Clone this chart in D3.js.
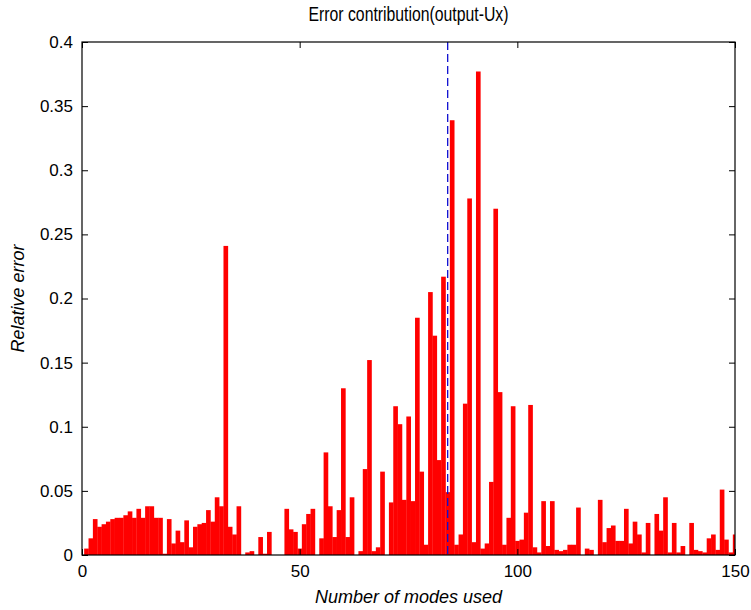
<!DOCTYPE html>
<html>
<head>
<meta charset="utf-8">
<script src="https://cdn.jsdelivr.net/npm/d3@7"></script>
<style>
  html, body { margin: 0; padding: 0; background: #fff; }
  svg text { font-family: "Liberation Sans", Arial, Helvetica, sans-serif; fill: #000; }
</style>
</head>
<body>
<svg id="chart" width="751" height="610"></svg>
<script>
// ---- data ----
const modes = d3.range(1, 151); // mode numbers 1..150
const errors = [
  0.005, 0.013, 0.028, 0.022, 0.024, 0.026, 0.028, 0.029, 0.029, 0.031,
  0.034, 0.029, 0.036, 0.029, 0.038, 0.038, 0.029, 0.029, 0.001, 0.028,
  0.009, 0.019, 0.010, 0.027, 0.006, 0.022, 0.024, 0.025, 0.035, 0.026,
  0.045, 0.038, 0.241, 0.022, 0.016, 0.038, 0.000, 0.002, 0.003, 0.000,
  0.014, 0.001, 0.018, 0.000, 0.000, 0.000, 0.036, 0.020, 0.018, 0.005,
  0.024, 0.032, 0.036, 0.000, 0.013, 0.080, 0.038, 0.014, 0.035, 0.130,
  0.014, 0.045, 0.000, 0.003, 0.067, 0.152, 0.003, 0.006, 0.065, 0.000,
  0.041, 0.116, 0.102, 0.043, 0.108, 0.042, 0.185, 0.065, 0.008, 0.205,
  0.171, 0.074, 0.217, 0.049, 0.339, 0.008, 0.016, 0.118, 0.278, 0.010,
  0.377, 0.005, 0.009, 0.057, 0.270, 0.127, 0.008, 0.029, 0.116, 0.011,
  0.012, 0.033, 0.117, 0.006, 0.002, 0.042, 0.007, 0.042, 0.004, 0.003,
  0.004, 0.008, 0.008, 0.037, 0.000, 0.005, 0.004, 0.000, 0.043, 0.010,
  0.021, 0.023, 0.011, 0.011, 0.036, 0.009, 0.026, 0.016, 0.002, 0.025,
  0.000, 0.032, 0.019, 0.045, 0.002, 0.025, 0.002, 0.007, 0.000, 0.025,
  0.004, 0.003, 0.002, 0.013, 0.016, 0.004, 0.051, 0.012, 0.002, 0.016
];
const xTicks = [0, 50, 100, 150];
const yTicks = [0, 0.05, 0.1, 0.15, 0.2, 0.25, 0.3, 0.35, 0.4];
const yTickLabels = ["0", "0.05", "0.1", "0.15", "0.2", "0.25", "0.3", "0.35", "0.4"];
const selectedModes = 84;
const titleText = "Error contribution(output-Ux)";
const xLabelText = "Number of modes used";
const yLabelText = "Relative error";

// ---- layout ----
const svg = d3.select("#chart");
const L = 82, R = 735, T = 42, B = 555;
const x = d3.scaleLinear().domain([0, 150]).range([L, R]);
const y = d3.scaleLinear().domain([0, 0.4]).range([B, T]);
const tick = 6;

svg.append("defs").append("clipPath").attr("id", "plotclip")
  .append("rect").attr("x", L).attr("y", T).attr("width", R - L).attr("height", B - T);

// bars
svg.append("g").attr("clip-path", "url(#plotclip)")
  .selectAll("rect").data(modes).join("rect")
  .attr("x", d => x(d - 0.5))
  .attr("width", d => x(d + 0.5) - x(d - 0.5) + 0.3)
  .attr("y", (d, i) => y(errors[i]))
  .attr("height", (d, i) => y(0) - y(errors[i]))
  .attr("fill", "#ff0000");

// dashed marker line
svg.append("line")
  .attr("x1", x(selectedModes)).attr("x2", x(selectedModes))
  .attr("y1", y(0.4)).attr("y2", y(0))
  .attr("stroke", "#1010d0").attr("stroke-width", 1.3)
  .attr("stroke-dasharray", "8,4");

// axes
const fontSize = 17;
const gx = svg.append("g").attr("transform", `translate(0,${B})`)
  .call(d3.axisBottom(x).tickValues(xTicks).tickFormat(d3.format("d"))
    .tickSizeInner(-tick).tickSizeOuter(0).tickPadding(9));
const gxt = svg.append("g").attr("transform", `translate(0,${T})`)
  .call(d3.axisTop(x).tickValues(xTicks).tickFormat("")
    .tickSizeInner(-tick).tickSizeOuter(0));
const gy = svg.append("g").attr("transform", `translate(${L},0)`)
  .call(d3.axisLeft(y).tickValues(yTicks).tickFormat((d, i) => yTickLabels[i])
    .tickSizeInner(-tick).tickSizeOuter(0).tickPadding(9));
const gyr = svg.append("g").attr("transform", `translate(${R},0)`)
  .call(d3.axisRight(y).tickValues(yTicks).tickFormat("")
    .tickSizeInner(-tick).tickSizeOuter(0));

[gx, gxt, gy, gyr].forEach(g => {
  g.select(".domain").remove();
  g.selectAll(".tick line").attr("stroke", "#000").attr("stroke-width", 1);
  g.selectAll(".tick text").attr("font-size", fontSize)
    .style("font-family", "'Liberation Sans', Arial, sans-serif").attr("fill", "#000");
});
gx.selectAll(".tick text").attr("dy", "0.75em");

// box
svg.append("rect").attr("x", L).attr("y", T).attr("width", R - L).attr("height", B - T)
  .attr("fill", "none").attr("stroke", "#000").attr("stroke-width", 1.2);

// title and labels
svg.append("text").attr("x", (L + R) / 2).attr("y", 21)
  .attr("text-anchor", "middle").attr("font-size", 20)
  .attr("textLength", 200).attr("lengthAdjust", "spacingAndGlyphs")
  .text(titleText);
svg.append("text").attr("x", (L + R) / 2).attr("y", 603)
  .attr("text-anchor", "middle").attr("font-size", 18).attr("font-style", "italic")
  .text(xLabelText);
svg.append("text").attr("transform", `translate(24,${(T + B) / 2}) rotate(-90)`)
  .attr("text-anchor", "middle").attr("font-size", 18).attr("font-style", "italic")
  .text(yLabelText);
</script>
</body>
</html>
